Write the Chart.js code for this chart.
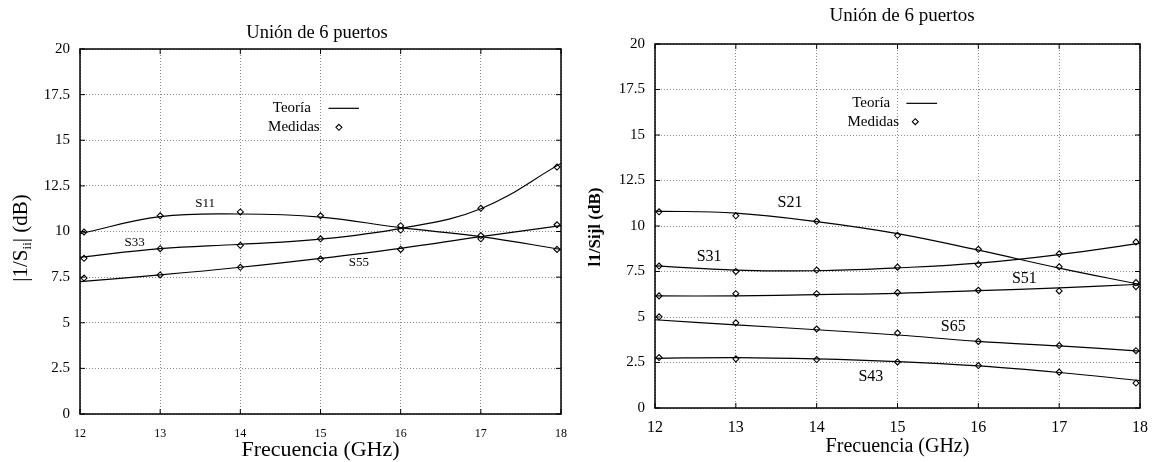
<!DOCTYPE html>
<html lang="es">

<head>
    <meta charset="UTF-8">
    <title>Unión de 6 puertos</title>

    <style>
        body {
            margin: 0;
            background: #fff;
        }

        .panel {
            position: absolute;
            top: 0;
        }

        #leftPanel {
            left: 0;
        }

        #rightPanel {
            left: 580px;
        }
    </style>
</head>

<body>
    <div class="panel" id="leftPanel"><canvas id="chartLeft" width="580" height="462"></canvas></div>
    <div class="panel" id="rightPanel"><canvas id="chartRight" width="578" height="462"></canvas></div>

    <script src="https://cdn.jsdelivr.net/npm/chart.js"></script>

    <script>
        // frequencies (GHz)
        const freqTheory = [12, 13, 14, 15, 16, 17, 18];
        const freqMeasured = [12.05, 13, 14, 15, 16, 17, 17.95];

        // left panel: reflection |1/Sii| (dB)
        const s11Theory = [9.88, 10.81, 10.96, 10.79, 10.21, 9.72, 9.02];
        const s11Measured = [9.97, 10.86, 11.07, 10.86, 10.32, 9.78, 9.02];
        const s33Theory = [8.59, 9.06, 9.30, 9.58, 10.17, 11.25, 13.73];
        const s33Measured = [8.53, 9.06, 9.24, 9.60, 10.08, 11.27, 13.53];
        const s55Theory = [7.25, 7.62, 8.04, 8.53, 9.08, 9.72, 10.32];
        const s55Measured = [7.45, 7.62, 8.04, 8.49, 9.02, 9.60, 10.37];

        // right panel: transmission |1/Sij| (dB)
        const s21Theory = [10.82, 10.71, 10.24, 9.58, 8.67, 7.69, 6.79];
        const s21Measured = [10.78, 10.56, 10.26, 9.49, 8.72, 7.76, 6.89];
        const s31Theory = [7.81, 7.58, 7.54, 7.70, 7.96, 8.43, 9.05];
        const s31Measured = [7.80, 7.50, 7.58, 7.74, 7.88, 8.47, 9.12];
        const s51Theory = [6.16, 6.16, 6.23, 6.30, 6.45, 6.60, 6.80];
        const s51Measured = [6.16, 6.28, 6.28, 6.34, 6.47, 6.43, 6.67];
        const s65Theory = [4.85, 4.57, 4.30, 4.01, 3.66, 3.41, 3.13];
        const s65Measured = [5.01, 4.68, 4.34, 4.12, 3.66, 3.43, 3.15];
        const s43Theory = [2.73, 2.77, 2.70, 2.55, 2.31, 1.95, 1.51];
        const s43Measured = [2.77, 2.70, 2.66, 2.53, 2.33, 1.97, 1.37];

        // axis limits / steps
        const xRange = [12, 18];
        const yRange = [0, 20];
        const yStep = 2.5;

        // curve labels (text, freq, dB)
        const leftLabels = [["S11", 13.56, 11.54], ["S33", 12.68, 9.42], ["S55", 15.48, 8.32]];
        const rightLabels = [["S21", 13.67, 11.27], ["S31", 12.67, 8.29], ["S51", 16.57, 7.1],
                             ["S65", 15.69, 4.47], ["S43", 14.67, 1.74]];

        const FONT = "'Liberation Serif', 'Times New Roman', serif";

        function pts(xs, ys) {
            return xs.map((x, i) => ({ x: x, y: ys[i] }));
        }

        function theoryLine(values) {
            return {
                data: pts(freqTheory, values),
                showLine: true,
                borderColor: "#000",
                borderWidth: 1.2,
                pointRadius: 0,
                tension: 0.4
            };
        }

        function measuredPoints(values) {
            return {
                data: pts(freqMeasured, values),
                showLine: false,
                pointStyle: "rectRot",
                pointRadius: 3,
                borderColor: "#000",
                borderWidth: 1.1,
                backgroundColor: "#fff"
            };
        }

        // gnuplot-ish decorations: box, inward ticks, titles, key and curve labels
        const decorPlugin = {
            id: "decor",
            beforeDraw(chart) {
                const c = chart.ctx;
                c.save();
                c.fillStyle = "#fff";
                c.fillRect(0, 0, chart.width, chart.height);
                c.restore();
            },
            afterDraw(chart, args, o) {
                const c = chart.ctx;
                const a = chart.chartArea;
                const sx = chart.scales.x;
                const sy = chart.scales.y;
                c.save();

                // border box
                c.strokeStyle = "#000";
                c.lineWidth = 1.5;
                c.strokeRect(a.left, a.top, a.right - a.left, a.bottom - a.top);

                // inward tick marks on all four sides
                c.lineWidth = 1;
                c.beginPath();
                sx.ticks.forEach(t => {
                    const px = sx.getPixelForValue(t.value);
                    c.moveTo(px, a.bottom); c.lineTo(px, a.bottom - 5);
                    c.moveTo(px, a.top); c.lineTo(px, a.top + 5);
                });
                sy.ticks.forEach(t => {
                    const py = sy.getPixelForValue(t.value);
                    c.moveTo(a.left, py); c.lineTo(a.left + 5, py);
                    c.moveTo(a.right, py); c.lineTo(a.right - 5, py);
                });
                c.stroke();

                c.fillStyle = "#000";
                c.textBaseline = "middle";

                // title
                c.textAlign = "center";
                c.font = o.titleSize + "px " + FONT;
                c.fillText(o.title, o.titleX, o.titleY);

                // y label (rotated, with optional subscript)
                c.save();
                c.translate(o.ylabelX, o.ylabelY);
                c.rotate(-Math.PI / 2);
                const big = (o.ylabelBold ? "bold " : "") + o.ylabelSize + "px " + FONT;
                const small = Math.round(o.ylabelSize * 0.6) + "px " + FONT;
                let total = 0;
                o.ylabel.forEach(p => {
                    c.font = p.sub ? small : big;
                    total += c.measureText(p.text).width;
                });
                let cx = -total / 2;
                c.textAlign = "left";
                o.ylabel.forEach(p => {
                    c.font = p.sub ? small : big;
                    c.fillText(p.text, cx, p.sub ? o.ylabelSize * 0.3 : 0);
                    cx += c.measureText(p.text).width;
                });
                c.restore();

                // curve labels
                c.textAlign = "center";
                c.font = o.labelSize + "px " + FONT;
                o.labels.forEach(l => {
                    c.fillText(l[0], sx.getPixelForValue(l[1]), sy.getPixelForValue(l[2]));
                });

                // key
                const k = o.key;
                c.font = k.size + "px " + FONT;
                c.textAlign = "right";
                const yT = sy.getPixelForValue(k.yTheory);
                const yM = sy.getPixelForValue(k.yMeasured);
                c.fillText("Teoría", sx.getPixelForValue(k.xTextTheory), yT);
                c.fillText("Medidas", sx.getPixelForValue(k.xTextMeasured), yM);
                c.lineWidth = 1.2;
                c.beginPath();
                c.moveTo(sx.getPixelForValue(k.lineFrom), yT);
                c.lineTo(sx.getPixelForValue(k.lineTo), yT);
                c.stroke();
                const mx = sx.getPixelForValue(k.marker);
                c.fillStyle = "#fff";
                c.lineWidth = 1.1;
                c.beginPath();
                c.moveTo(mx, yM - 3); c.lineTo(mx + 3, yM); c.lineTo(mx, yM + 3); c.lineTo(mx - 3, yM);
                c.closePath();
                c.fill();
                c.stroke();

                c.restore();
            }
        };

        function makeChart(id, datasets, cfg) {
            return new Chart(document.getElementById(id).getContext("2d"), {
                type: "scatter",
                data: { datasets: datasets },
                options: {
                    responsive: false,
                    animation: false,
                    layout: { padding: { top: cfg.top, right: cfg.right, left: 0, bottom: 0 } },
                    plugins: {
                        legend: { display: false },
                        tooltip: { enabled: false },
                        decor: cfg.decor
                    },
                    scales: {
                        x: {
                            type: "linear",
                            min: xRange[0],
                            max: xRange[1],
                            afterFit: s => { s.height = cfg.xHeight; },
                            ticks: {
                                stepSize: 1,
                                padding: cfg.xTickPad,
                                color: "#000",
                                font: { family: FONT, size: cfg.xTickSize }
                            },
                            grid: { color: "#8a8a8a", lineWidth: 1, drawTicks: false },
                            border: { display: false, dash: [1, 2] },
                            title: {
                                display: true,
                                text: "Frecuencia (GHz)",
                                color: "#000",
                                font: { family: FONT, size: cfg.xTitleSize, lineHeight: 1 },
                                padding: { top: 0, bottom: cfg.xTitlePad }
                            }
                        },
                        y: {
                            min: yRange[0],
                            max: yRange[1],
                            afterFit: s => { s.width = cfg.yWidth; },
                            ticks: {
                                stepSize: yStep,
                                padding: 10,
                                color: "#000",
                                font: { family: FONT, size: cfg.yTickSize }
                            },
                            grid: { color: "#8a8a8a", lineWidth: 1, drawTicks: false },
                            border: { display: false, dash: [1, 2] }
                        }
                    }
                },
                plugins: [decorPlugin]
            });
        }

        makeChart("chartLeft", [
            theoryLine(s11Theory), measuredPoints(s11Measured),
            theoryLine(s33Theory), measuredPoints(s33Measured),
            theoryLine(s55Theory), measuredPoints(s55Measured)
        ], {
            top: 49, right: 9, xHeight: 48, yWidth: 80,
            xTickPad: 13, xTickSize: 12, yTickSize: 15,
            xTitleSize: 22, xTitlePad: 1,
            decor: {
                title: "Unión de 6 puertos", titleX: 317, titleY: 33, titleSize: 18.5,
                ylabel: [{ text: "|1/S" }, { text: "ii", sub: true }, { text: "| (dB)" }],
                ylabelX: 21, ylabelY: 238, ylabelSize: 21, ylabelBold: false,
                labels: leftLabels, labelSize: 13,
                key: {
                    size: 15, yTheory: 16.75, yMeasured: 15.71,
                    xTextTheory: 14.88, xTextMeasured: 14.99,
                    lineFrom: 15.10, lineTo: 15.48, marker: 15.23
                }
            }
        });

        makeChart("chartRight", [
            theoryLine(s21Theory), measuredPoints(s21Measured),
            theoryLine(s31Theory), measuredPoints(s31Measured),
            theoryLine(s51Theory), measuredPoints(s51Measured),
            theoryLine(s65Theory), measuredPoints(s65Measured),
            theoryLine(s43Theory), measuredPoints(s43Measured)
        ], {
            top: 44, right: 13, xHeight: 54, yWidth: 75,
            xTickPad: 10, xTickSize: 16, yTickSize: 15,
            xTitleSize: 20, xTitlePad: 5,
            decor: {
                title: "Unión de 6 puertos", titleX: 322, titleY: 16, titleSize: 19,
                ylabel: [{ text: "l1/Sijl (dB)" }],
                ylabelX: 16, ylabelY: 227, ylabelSize: 17, ylabelBold: true,
                labels: rightLabels, labelSize: 16,
                key: {
                    size: 15, yTheory: 16.74, yMeasured: 15.73,
                    xTextTheory: 14.91, xTextMeasured: 15.02,
                    lineFrom: 15.11, lineTo: 15.49, marker: 15.22
                }
            }
        });
    </script>
</body>

</html>
